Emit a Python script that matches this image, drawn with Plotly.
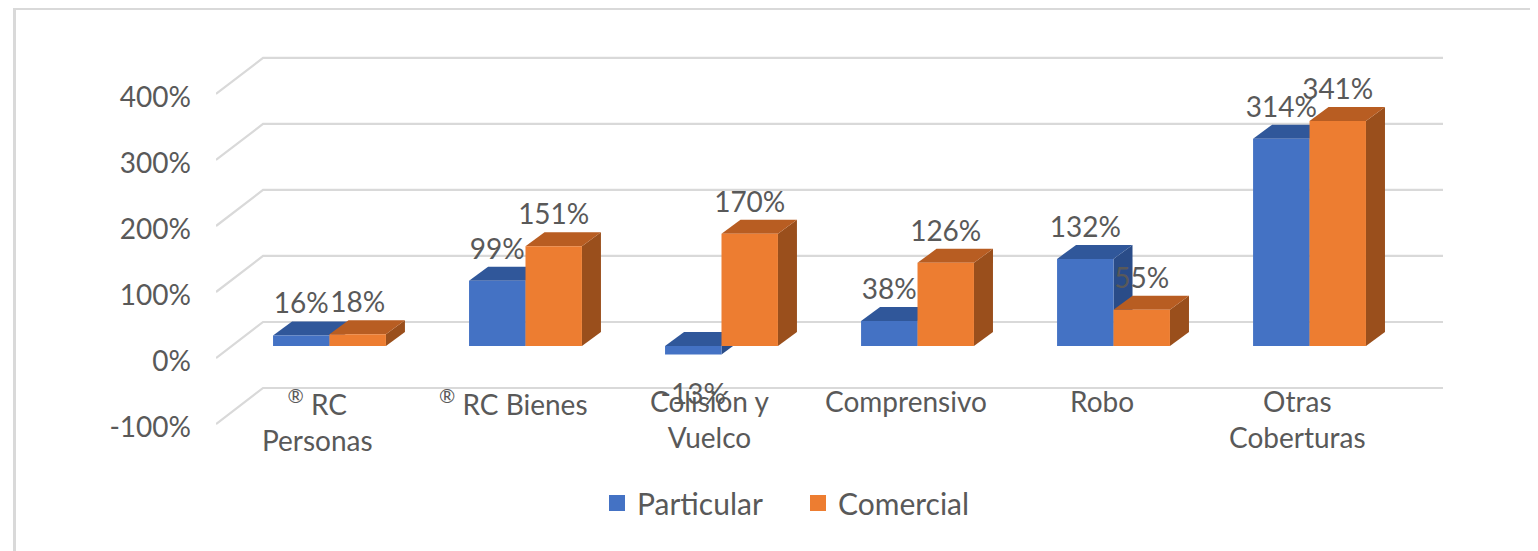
import numpy as np
import plotly.graph_objects as go

# ---------------- data ----------------
categories = ["<sup>®</sup> RC<br>Personas", "<sup>®</sup> RC Bienes", "Colisión y<br>Vuelco",
              "Comprensivo", "Robo", "Otras<br>Coberturas"]
particular = [16, 99, -13, 38, 132, 314]
comercial = [18, 151, 170, 126, 55, 341]
tick_values = [-100, 0, 100, 200, 300, 400]
tick_labels = ["-100%", "0%", "100%", "200%", "300%", "400%"]
series_names = ["Particular", "Comercial"]

# ---------------- style / geometry ----------------
FONT = "Lato"
GRAY = "#595959"
GRID = "#D9D9D9"
COLORS = {
    "Particular": dict(front="#4472C4", top="#30579A", side="#2A4C88"),
    "Comercial": dict(front="#ED7D31", top="#B85D22", side="#9A4F1C"),
}
W = 0.288          # bar width (category units)
DX = 0.097         # 3D depth offset, x (category units)
DY = 21.2          # 3D depth offset, y (percent units)
BACK = 36.4        # back-wall offset (percent units)
FRONT = -18.2      # front-edge offset (percent units)
LABEL_OFF = 44     # data label offset above positive bars
NEG_LABEL_OFF = 65 # data label offset below negative bars
XMIN, XMAX = -0.579, 5.681
YMIN, YMAX = -142.4, 463.6
PAGE = 8           # default page body margin
FIG_W, FIG_H = 1530, 543
ML, MT = 216 - PAGE, 40 - PAGE
PW, PH = 1227, 400
MR, MB = FIG_W - ML - PW, FIG_H - MT - PH

idx = np.arange(len(categories))

fig = go.Figure()
shapes = []

# back wall + left diagonals
x_back_left = XMIN + 0.24
for v in tick_values:
    shapes.append(dict(
        type="path", xref="x", yref="y", layer="between",
        path=f"M{XMIN},{v + FRONT} L{x_back_left},{v + BACK} L{XMAX},{v + BACK}",
        line=dict(color=GRID, width=2.2)))

def poly(pts):
    return "M" + " L".join(f"{x},{y}" for x, y in pts) + " Z"

series = [("Particular", particular, idx - W / 2), ("Comercial", comercial, idx + W / 2)]

# 3D side and top faces (drawn below bar fronts, painter's order)
for name, vals, xc in series:
    c = COLORS[name]
    for v, x in zip(vals, xc):
        x0, x1 = x - W / 2, x + W / 2
        t, b = max(v, 0), min(v, 0)
        shapes.append(dict(type="path", xref="x", yref="y", layer="between",
                           path=poly([(x1, b), (x1, t), (x1 + DX, t + DY), (x1 + DX, b + DY)]),
                           fillcolor=c["side"], line=dict(width=0)))
        shapes.append(dict(type="path", xref="x", yref="y", layer="between",
                           path=poly([(x0, t), (x1, t), (x1 + DX, t + DY), (x0 + DX, t + DY)]),
                           fillcolor=c["top"], line=dict(width=0)))

# front faces
for name, vals, xc in series:
    fig.add_trace(go.Bar(x=xc, y=vals, width=W, name=name, showlegend=False,
                         marker=dict(color=COLORS[name]["front"], line=dict(width=0)),
                         hoverinfo="skip"))

# data labels
for name, vals, xc in series:
    fig.add_trace(go.Scatter(
        x=xc, y=[v + LABEL_OFF if v >= 0 else v - NEG_LABEL_OFF for v in vals],
        mode="text", text=[f"{v}%" for v in vals], textposition="middle center",
        textfont=dict(family=FONT, size=28, color=GRAY),
        showlegend=False, cliponaxis=False, hoverinfo="skip"))

# legend entries
for name in series_names:
    fig.add_trace(go.Scatter(x=[None], y=[None], mode="markers", name=name,
                             marker=dict(symbol="square", size=16, color=COLORS[name]["front"])))

# category labels
annotations = []
for i, cat in enumerate(categories):
    annotations.append(dict(x=i - 0.06, y=-54, xref="x", yref="y", text=cat,
                            showarrow=False, xanchor="center", yanchor="top",
                            font=dict(family=FONT, size=28, color=GRAY)))

# page pixel -> paper
def px_to_paper_x(p):
    return (p - PAGE - ML) / PW

def px_to_paper_y(p):
    return (MT + PH - (p - PAGE)) / PH

# chart border
shapes.append(dict(type="rect", xref="paper", yref="paper", layer="below",
                   x0=px_to_paper_x(14.5), x1=px_to_paper_x(1560),
                   y0=px_to_paper_y(580), y1=px_to_paper_y(8.5),
                   line=dict(color=GRID, width=3), fillcolor="rgba(0,0,0,0)"))

fig.update_layout(
    width=FIG_W, height=FIG_H,
    margin=dict(l=ML, r=MR, t=MT, b=MB),
    paper_bgcolor="white", plot_bgcolor="white",
    barmode="overlay",
    shapes=shapes, annotations=annotations,
    font=dict(family=FONT, size=28, color=GRAY),
    xaxis=dict(range=[XMIN, XMAX], visible=False, fixedrange=True),
    yaxis=dict(range=[YMIN, YMAX], showgrid=False, zeroline=False, showline=False,
               tickmode="array", tickvals=[v - 22.5 for v in tick_values],
               ticktext=tick_labels, ticks="", ticklabelstandoff=24,
               tickfont=dict(family=FONT, size=28, color=GRAY), fixedrange=True),
    legend=dict(orientation="h", x=px_to_paper_x(798), y=px_to_paper_y(503),
                xanchor="center", yanchor="middle", entrywidth=156,
                font=dict(family=FONT, size=30, color=GRAY),
                itemclick=False, itemdoubleclick=False),
    showlegend=True,
)

fig.write_html("out.html")
